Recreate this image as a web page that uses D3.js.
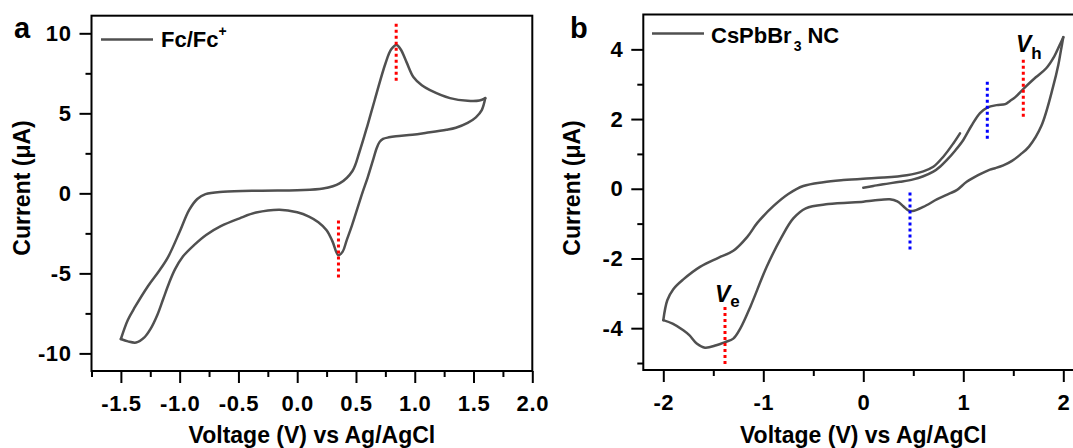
<!DOCTYPE html>
<html>
<head>
    <style>
        body { margin: 0; background: #fff; }
        svg text { font-family: "Liberation Sans", Arial, sans-serif; font-weight: bold; fill: #000; }
        .curve { fill: none; stroke: #505050; stroke-width: 2.5; stroke-linejoin: round; stroke-linecap: round; }
        .frame { fill: none; stroke: #000; stroke-width: 2; }
        .axis path { display: none; }
        .axis line { stroke: #000; stroke-width: 2; }
        .title { font-size: 23px; text-anchor: middle; }
        .legend { font-size: 22px; }
        .panel { font-size: 29px; }
        .mark { stroke-width: 3; stroke-dasharray: 3,3; }
    </style>
    <script src="https://cdn.jsdelivr.net/npm/d3@7"></script>
</head>
<body>
    <svg width="1073" height="448"></svg>
    <script>
        // panel a: Fc/Fc+ cyclic voltammogram
        var fcFwdV = [-1.50, -1.44, -1.38, -1.27, -1.18, -1.10, -1.00, -0.92, -0.85, -0.78, -0.63, -0.30, 0.00, 0.22, 0.36, 0.47, 0.53, 0.60, 0.66, 0.75, 0.80, 0.845, 0.88, 0.93, 0.99, 1.06, 1.13, 1.30, 1.45, 1.55, 1.60];
        var fcFwdI = [-9.10, -7.90, -7.10, -5.80, -4.90, -4.00, -2.40, -1.05, -0.35, -0.05, 0.10, 0.17, 0.20, 0.30, 0.62, 1.40, 2.60, 4.30, 5.85, 8.10, 9.00, 9.27, 9.00, 8.20, 7.25, 6.75, 6.45, 5.95, 5.78, 5.80, 5.95];
        var fcRevV = [1.60, 1.57, 1.52, 1.45, 1.35, 1.27, 1.10, 0.98, 0.84, 0.78, 0.73, 0.70, 0.675, 0.65, 0.60, 0.553, 0.466, 0.42, 0.387, 0.35, 0.30, 0.25, 0.18, 0.10, 0.00, -0.15, -0.35, -0.49, -0.65, -0.775, -0.88, -0.974, -1.04, -1.09, -1.14, -1.19, -1.25, -1.30, -1.37, -1.44, -1.50];
        var fcRevI = [5.95, 5.20, 4.75, 4.40, 4.10, 3.97, 3.78, 3.66, 3.57, 3.50, 3.40, 3.20, 2.80, 2.20, 1.00, 0.00, -2.00, -2.95, -3.64, -3.86, -3.00, -2.30, -1.80, -1.45, -1.18, -1.02, -1.20, -1.56, -2.05, -2.60, -3.25, -3.96, -4.75, -5.60, -6.60, -7.60, -8.50, -9.00, -9.32, -9.25, -9.10];

        // panel b: CsPbBr3 NC, three sweeps
        var ncSweep1V = [0.00, 0.10, 0.20, 0.367, 0.50, 0.60, 0.70, 0.77, 0.834, 0.92, 1.00, 1.08, 1.167, 1.24, 1.333, 1.42, 1.467, 1.52, 1.606, 1.725, 1.827, 1.91, 1.96, 2.00];
        var ncSweep1I = [0.03, 0.08, 0.13, 0.20, 0.27, 0.36, 0.49, 0.64, 0.82, 1.10, 1.40, 1.80, 2.17, 2.33, 2.40, 2.43, 2.52, 2.63, 2.88, 3.20, 3.45, 3.80, 4.10, 4.35];
        var ncSweep2V = [2.00, 1.975, 1.95, 1.90, 1.78, 1.657, 1.57, 1.487, 1.40, 1.318, 1.267, 1.148, 1.034, 0.934, 0.86, 0.74, 0.60, 0.493, 0.45, 0.40, 0.34, 0.265, 0.10, 0.00, -0.35, -0.575, -0.70, -0.82, -0.966, -1.13, -1.228, -1.30, -1.383, -1.47, -1.583, -1.666, -1.74, -1.80, -1.907, -2.00];
        var ncSweep2I = [4.35, 3.95, 3.55, 2.95, 1.80, 1.21, 0.98, 0.80, 0.67, 0.59, 0.55, 0.39, 0.20, -0.04, -0.14, -0.30, -0.52, -0.64, -0.62, -0.50, -0.36, -0.30, -0.34, -0.37, -0.44, -0.56, -0.85, -1.40, -2.24, -3.39, -4.00, -4.30, -4.40, -4.49, -4.56, -4.44, -4.20, -4.06, -3.87, -3.77];
        var ncSweep3V = [-2.00, -1.96, -1.90, -1.80, -1.633, -1.45, -1.30, -1.16, -1.06, -0.90, -0.75, -0.60, -0.40, -0.20, 0.00, 0.20, 0.434, 0.60, 0.70, 0.80, 0.90, 0.967];
        var ncSweep3I = [-3.77, -3.20, -2.88, -2.60, -2.24, -1.98, -1.78, -1.38, -0.98, -0.50, -0.15, 0.08, 0.19, 0.25, 0.29, 0.32, 0.39, 0.50, 0.63, 0.92, 1.30, 1.59];

        // tick values
        var aMajorX = [-1.5, -1.0, -0.5, 0.0, 0.5, 1.0, 1.5, 2.0];
        var aMinorX = [-1.75, -1.25, -0.75, -0.25, 0.25, 0.75, 1.25, 1.75];
        var aMajorY = [-10, -5, 0, 5, 10];
        var aMinorY = [-7.5, -2.5, 2.5, 7.5];
        var bMajorX = [-2, -1, 0, 1, 2];
        var bMinorX = [-1.5, -0.5, 0.5, 1.5];
        var bMajorY = [-4, -2, 0, 2, 4];
        var bMinorY = [-5, -3, -1, 1, 3];

        // dotted peak markers
        var aMarkV = [0.842, 0.351];
        var aMarkTop = [10.6, -1.7];
        var aMarkBottom = [6.95, -5.4];
        var aMarkColor = ["#ff0000", "#ff0000"];
        var bMarkV = [1.24, 0.467, 1.60, -1.383];
        var bMarkTop = [3.07, -0.11, 3.70, -3.39];
        var bMarkBottom = [1.35, -1.76, 2.00, -5.05];
        var bMarkColor = ["#0000ff", "#0000ff", "#ff0000", "#ff0000"];

        var svg = d3.select("svg");

        function zip(vs, is) {
            return vs.map(function(v, i) { return [v, is[i]]; });
        }

        function styleTicks(sel) {
            sel.selectAll("text")
               .style("font-size", "22px")
               .style("font-weight", "bold")
               .style("letter-spacing", "0.6px")
               .style("font-family", "'Liberation Sans', Arial, sans-serif");
        }

        function drawPanel(p) {
            var x = d3.scaleLinear().domain(p.xDomain).range(p.xRange);
            var y = d3.scaleLinear().domain(p.yDomain).range(p.yRange);
            var g = svg.append("g");

            var line = d3.line()
                .x(function(d) { return x(d[0]); })
                .y(function(d) { return y(d[1]); })
                .curve(d3.curveCatmullRom.alpha(0.5));

            p.sweeps.forEach(function(s) {
                g.append("path").attr("class", "curve").attr("d", line(s));
            });

            p.marks.v.forEach(function(v, i) {
                g.append("line").attr("class", "mark")
                    .attr("x1", x(v)).attr("x2", x(v))
                    .attr("y1", y(p.marks.top[i])).attr("y2", y(p.marks.bottom[i]))
                    .attr("stroke", p.marks.color[i]);
            });

            var bottom = p.yRange[0];
            var left = p.xRange[0];

            g.append("g").attr("class", "axis").attr("transform", "translate(0," + bottom + ")")
                .call(d3.axisBottom(x).tickValues(p.majorX).tickSize(12).tickPadding(12).tickFormat(p.fmtX))
                .call(styleTicks);
            g.append("g").attr("class", "axis").attr("transform", "translate(0," + bottom + ")")
                .call(d3.axisBottom(x).tickValues(p.minorX).tickSize(6).tickFormat(""));
            g.append("g").attr("class", "axis").attr("transform", "translate(" + left + ",0)")
                .call(d3.axisLeft(y).tickValues(p.majorY).tickSize(12).tickPadding(8).tickFormat(function(d) { return String(d); }))
                .call(styleTicks);
            g.append("g").attr("class", "axis").attr("transform", "translate(" + left + ",0)")
                .call(d3.axisLeft(y).tickValues(p.minorY).tickSize(6).tickFormat(""));

            g.append("rect").attr("class", "frame")
                .attr("x", left).attr("y", p.yRange[1])
                .attr("width", p.xRange[1] - left).attr("height", bottom - p.yRange[1]);

            g.append("text").attr("class", "title")
                .attr("x", (p.xRange[0] + p.xRange[1]) / 2).attr("y", 443)
                .text("Voltage (V) vs Ag/AgCl");
            g.append("text").attr("class", "title")
                .attr("transform", "translate(" + p.yTitleX + ",188) rotate(-90)")
                .text("Current (\u03bcA)");

            g.append("text").attr("class", "panel")
                .attr("x", p.letterX).attr("y", 38).text(p.letter);

            g.append("line")
                .attr("x1", p.legendX).attr("x2", p.legendX + 52)
                .attr("y1", p.legendY).attr("y2", p.legendY)
                .attr("stroke", "#505050").attr("stroke-width", 2.5);
            return { g: g, x: x, y: y };
        }

        var a = drawPanel({
            xDomain: [-1.75, 2.0], xRange: [91.5, 532.3],
            yDomain: [-11.1, 11.1], yRange: [371, 15.7],
            sweeps: [zip(fcFwdV, fcFwdI), zip(fcRevV, fcRevI)],
            marks: { v: aMarkV, top: aMarkTop, bottom: aMarkBottom, color: aMarkColor },
            majorX: aMajorX, minorX: aMinorX, majorY: aMajorY, minorY: aMinorY,
            fmtX: function(d) { return d.toFixed(1); },
            yTitleX: 30, letter: "a", letterX: 14,
            legendX: 101, legendY: 39.5
        });
        var ta = a.g.append("text").attr("class", "legend").attr("x", 161).attr("y", 47).text("Fc/Fc");
        ta.append("tspan").attr("dy", -11).style("font-size", "14px").text("+");

        var b = drawPanel({
            xDomain: [-2.2, 2.2], xRange: [643.3, 1083.3],
            yDomain: [-5.2, 5.0], yRange: [370, 14.5],
            sweeps: [zip(ncSweep1V, ncSweep1I), zip(ncSweep2V, ncSweep2I), zip(ncSweep3V, ncSweep3I)],
            marks: { v: bMarkV, top: bMarkTop, bottom: bMarkBottom, color: bMarkColor },
            majorX: bMajorX, minorX: bMinorX, majorY: bMajorY, minorY: bMinorY,
            fmtX: function(d) { return String(d); },
            yTitleX: 580, letter: "b", letterX: 570,
            legendX: 652, legendY: 33.5
        });
        var tb = b.g.append("text").attr("class", "legend").attr("x", 711).attr("y", 42.5).text("CsPbBr");
        tb.append("tspan").attr("dy", 8).attr("dx", 2).style("font-size", "14px").text("3");
        tb.append("tspan").attr("dy", -8).attr("dx", 6).text("NC");

        var vh = b.g.append("text").attr("x", 1016).attr("y", 52).style("font-size", "23px");
        vh.append("tspan").style("font-style", "italic").text("V");
        vh.append("tspan").attr("dy", 7).style("font-size", "17px").text("h");
        var ve = b.g.append("text").attr("x", 715).attr("y", 302).style("font-size", "23px");
        ve.append("tspan").style("font-style", "italic").text("V");
        ve.append("tspan").attr("dy", 5).style("font-size", "17px").text("e");
    </script>
</body>
</html>
